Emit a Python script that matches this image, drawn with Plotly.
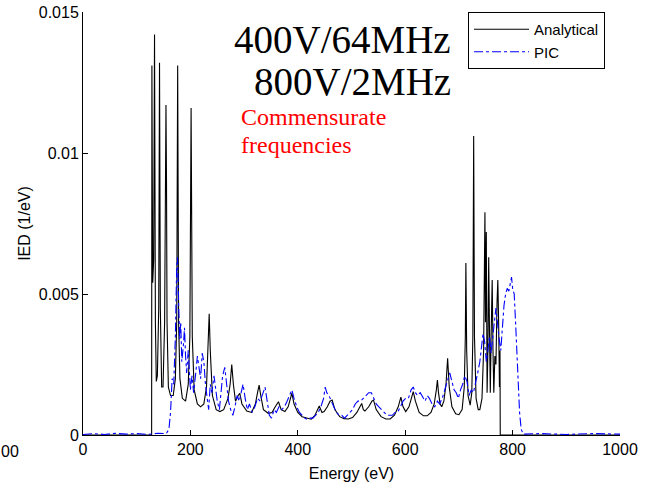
import plotly.graph_objects as go

# ---- Analytical IED (energy eV, IED 1/eV) ----
an_energy = [0, 127.8, 128.3, 129.8, 131.6, 133.2, 134.8, 136.5, 138.5, 141, 142.5, 144, 146.5, 149, 152,
             154.5, 155.5, 156.5, 159, 163, 168, 172, 174.5, 176.3, 178, 180.5, 185, 191, 196, 199, 201.3,
             203.5, 207, 213, 219, 225, 230, 233, 235, 237, 241, 248, 255, 262, 270, 274, 277, 280, 284,
             289, 292, 296, 305, 314, 321, 325, 328, 331, 336, 345, 352, 358, 364, 369, 376, 382, 386, 389,
             393, 400, 408, 417, 425, 432, 437, 440, 445, 449, 455, 460, 464, 469, 478, 486, 494, 502, 510,
             516, 519, 522, 525, 532, 538, 541, 546, 555, 564, 572, 580, 587, 592, 596, 601, 607, 612, 615,
             619, 626, 634, 641, 648, 654, 658, 660, 662, 665, 668, 672, 676, 679, 682, 687, 694, 700, 706,
             710, 712, 713, 714.5, 717, 721, 724, 726, 727.5, 729, 732, 736, 739, 743, 746, 748.5, 749.5,
             751, 752.5, 754, 755.5, 757, 758.5, 760, 762, 763.5, 765, 767, 769, 771, 772.5, 774, 775.5,
             776.5, 777, 1000]
an_ied = [0, 0, 0.0131, 0.0054, 0.0062, 0.0142, 0.0040, 0.0019, 0.0021, 0.0045, 0.0132, 0.0045, 0.0017,
          0.0017, 0.0040, 0.0117, 0.0090, 0.0040, 0.0017, 0.0014, 0.0014, 0.0020, 0.0040, 0.0131, 0.0040,
          0.0020, 0.0013, 0.0012, 0.0018, 0.0035, 0.0116, 0.0035, 0.0016, 0.0011, 0.0010, 0.0011, 0.0017,
          0.0030, 0.0043, 0.0030, 0.0014, 0.0009, 0.00083, 0.0009, 0.0013, 0.0018, 0.0025, 0.0018, 0.0012,
          0.0014, 0.00148, 0.0011, 0.00085, 0.0008, 0.0011, 0.0015, 0.00177, 0.0014, 0.0009, 0.00077,
          0.0008, 0.0010, 0.00118, 0.0009, 0.00083, 0.0010, 0.0013, 0.00148, 0.0011, 0.0008, 0.00065,
          0.00059, 0.00056, 0.0007, 0.0009, 0.00103, 0.0008, 0.00083, 0.0010, 0.0012, 0.00124, 0.0009,
          0.00065, 0.00058, 0.00057, 0.00062, 0.0008, 0.0010, 0.00112, 0.0009, 0.00085, 0.0010, 0.0012,
          0.00124, 0.0009, 0.00065, 0.00057, 0.00057, 0.0007, 0.0010, 0.00134, 0.0010, 0.00083, 0.0010,
          0.0013, 0.00154, 0.0012, 0.0008, 0.00068, 0.00068, 0.0008, 0.0011, 0.0016, 0.00195, 0.0015,
          0.0011, 0.0010, 0.0012, 0.0018, 0.00272, 0.0017, 0.0010, 0.00075, 0.00072, 0.0009, 0.0017,
          0.0035, 0.0061, 0.0030, 0.0014, 0.00106, 0.0015, 0.0035, 0.0106, 0.0035, 0.0013, 0.0009, 0.0009,
          0.0013, 0.0030, 0.0079, 0.0040, 0.0072, 0.0015, 0.0030, 0.0063, 0.0036, 0.0015, 0.0035, 0.0055,
          0.0030, 0.0015, 0.0028, 0.0025, 0.0047, 0.0055, 0.0040, 0.0017, 0.0030, 0, 0]

# ---- PIC IED ----
pic_energy = [0, 20, 40, 60, 80, 100, 120, 140, 155, 160, 163, 166, 169, 172, 174.5, 176, 178, 180, 182,
              184, 187, 189, 191, 193, 196, 198, 200, 203, 206, 210, 213, 216, 219, 222, 225, 228, 231,
              234, 237, 240, 244, 247, 250, 254, 257, 260, 264, 267, 271, 275, 279, 283, 287, 291, 295,
              298, 302, 306, 310, 315, 320, 325, 330, 335, 339, 343, 347, 351, 356, 360, 365, 370, 375,
              380, 384, 389, 393, 398, 403, 408, 413, 418, 423, 428, 433, 438, 443, 448, 451, 454, 458,
              462, 467, 472, 477, 482, 487, 492, 497, 502, 507, 512, 517, 522, 527, 532, 537, 541, 546,
              551, 556, 561, 566, 571, 576, 581, 586, 591, 596, 601, 606, 611, 615, 619, 623, 628, 633,
              637, 641, 645, 650, 655, 660, 664, 669, 674, 679, 683, 687, 691, 695, 699, 703, 707, 711,
              715, 719, 723, 727, 731, 735, 739, 742, 745, 748, 751, 754, 757, 760, 763, 766, 769, 772,
              775, 778, 781, 784, 787, 790, 793, 796, 798, 800, 803, 806, 808, 810, 813, 816, 820, 850,
              900, 950, 1000]
pic_ied = [0.00002, 0.00005, 0.00002, 0.00006, 0.00003, 0.00005, 0.00002, 0.00006, 0.00005, 0.0002,
           0.0008, 0.0020, 0.0018, 0.0035, 0.0060, 0.0063, 0.0047, 0.0034, 0.0040, 0.0026, 0.0032, 0.0038,
           0.0028, 0.0022, 0.0030, 0.0024, 0.0016, 0.0021, 0.0015, 0.0022, 0.0028, 0.0024, 0.0020, 0.0029,
           0.0026, 0.0018, 0.0013, 0.0009, 0.0018, 0.0015, 0.0021, 0.0016, 0.0012, 0.0009, 0.0015, 0.0021,
           0.0024, 0.0018, 0.0012, 0.0009, 0.0007, 0.0010, 0.0014, 0.0012, 0.0016, 0.0018, 0.0013, 0.0009,
           0.0011, 0.0008, 0.0010, 0.0013, 0.0012, 0.0015, 0.0017, 0.0012, 0.0007, 0.0006, 0.0009, 0.0008,
           0.0010, 0.0009, 0.0010, 0.0012, 0.0014, 0.0016, 0.0013, 0.0010, 0.0008, 0.0007, 0.0006, 0.00055,
           0.0006, 0.0006, 0.0007, 0.0008, 0.0010, 0.0013, 0.0017, 0.0015, 0.0014, 0.0012, 0.0010, 0.0008,
           0.0007, 0.0007, 0.0006, 0.0007, 0.0008, 0.0009, 0.0011, 0.0012, 0.0012, 0.0013, 0.0014, 0.0015,
           0.0015, 0.0013, 0.0011, 0.0010, 0.0009, 0.0008, 0.0007, 0.0007, 0.0007, 0.0008, 0.0008, 0.0010,
           0.0012, 0.0013, 0.0013, 0.0016, 0.0017, 0.0015, 0.0014, 0.0015, 0.0013, 0.0012, 0.0014, 0.0013,
           0.0011, 0.0010, 0.0012, 0.0011, 0.0013, 0.0016, 0.0019, 0.0022, 0.0019, 0.0016, 0.0015, 0.0013,
           0.0016, 0.0018, 0.0021, 0.0019, 0.0014, 0.0016, 0.0015, 0.0018, 0.0022, 0.0026, 0.0031, 0.0036,
           0.0033, 0.0026, 0.0030, 0.0035, 0.0029, 0.0036, 0.0040, 0.0045, 0.0039, 0.0034, 0.0030, 0.0040,
           0.0046, 0.0050, 0.0052, 0.0051, 0.0054, 0.0056, 0.0052, 0.0050, 0.0038, 0.0030, 0.0019, 0.0008,
           0.0002, 0.00003, 0.00005, 0.00002, 0.00005, 0.00003]

x_ticks = [0, 200, 400, 600, 800, 1000]
y_ticks = [0, 0.005, 0.01, 0.015]
y_tick_labels = ["0", "0.005", "0.01", "0.015"]

SANS = "Liberation Sans, Arial, sans-serif"
SERIF = "Liberation Serif, Times New Roman, serif"

fig = go.Figure()
fig.add_trace(go.Scatter(x=an_energy, y=an_ied, mode="lines", name="Analytical",
                         line=dict(color="black", width=1.1)))
fig.add_trace(go.Scatter(x=pic_energy, y=pic_ied, mode="lines", name="PIC",
                         line=dict(color="blue", width=1.1, dash="dashdot")))

fig.update_layout(
    width=648, height=482,
    margin=dict(l=83, r=28, t=12, b=47, autoexpand=False),
    paper_bgcolor="white", plot_bgcolor="white",
    font=dict(family=SANS, size=16, color="black"),
    showlegend=True,
    legend=dict(x=(468 - 83) / 537, y=1.0, xanchor="left", yanchor="top",
                bordercolor="black", borderwidth=1, bgcolor="white",
                font=dict(family=SANS, size=15), itemwidth=55, tracegroupgap=0),
    xaxis=dict(range=[0, 1000], tickvals=x_ticks, ticks="inside", ticklen=5, tickcolor="black",
               showline=True, linecolor="black", linewidth=1, showgrid=False, zeroline=False,
               automargin=False,
               title=dict(text="Energy (eV)", standoff=11, font=dict(size=16))),
    yaxis=dict(range=[0, 0.015], tickvals=y_ticks, ticktext=y_tick_labels, ticks="inside", ticklen=5,
               tickcolor="black", showline=True, linecolor="black", linewidth=1, showgrid=False,
               zeroline=False, automargin=False,
               title=dict(text="IED (1/eV)", standoff=4, font=dict(size=16))),
)

fig.add_annotation(text="400V/64MHz", xref="paper", yref="paper", x=(453 - 83) / 537,
                   y=(435 - 40) / 423, xanchor="right", yanchor="middle", showarrow=False,
                   font=dict(family=SERIF, size=39, color="black"))
fig.add_annotation(text="800V/2MHz", xref="paper", yref="paper", x=(453 - 83) / 537,
                   y=(435 - 81) / 423, xanchor="right", yanchor="middle", showarrow=False,
                   font=dict(family=SERIF, size=39, color="black"))
fig.add_annotation(text="Commensurate", xref="paper", yref="paper", x=(239 - 83) / 537,
                   y=(435 - 117) / 423, xanchor="left", yanchor="middle", showarrow=False,
                   font=dict(family=SERIF, size=24, color="red"))
fig.add_annotation(text="frequencies", xref="paper", yref="paper", x=(239 - 83) / 537,
                   y=(435 - 145) / 423, xanchor="left", yanchor="middle", showarrow=False,
                   font=dict(family=SERIF, size=24, color="red"))
# partially visible tick label from a neighbouring panel at the far left edge
fig.add_annotation(text="00", xref="paper", yref="paper", x=(-1 - 83) / 537,
                   y=(435 - 451) / 423, xanchor="left", yanchor="middle", showarrow=False,
                   font=dict(family=SANS, size=16, color="black"))

fig.write_html("out.html")
